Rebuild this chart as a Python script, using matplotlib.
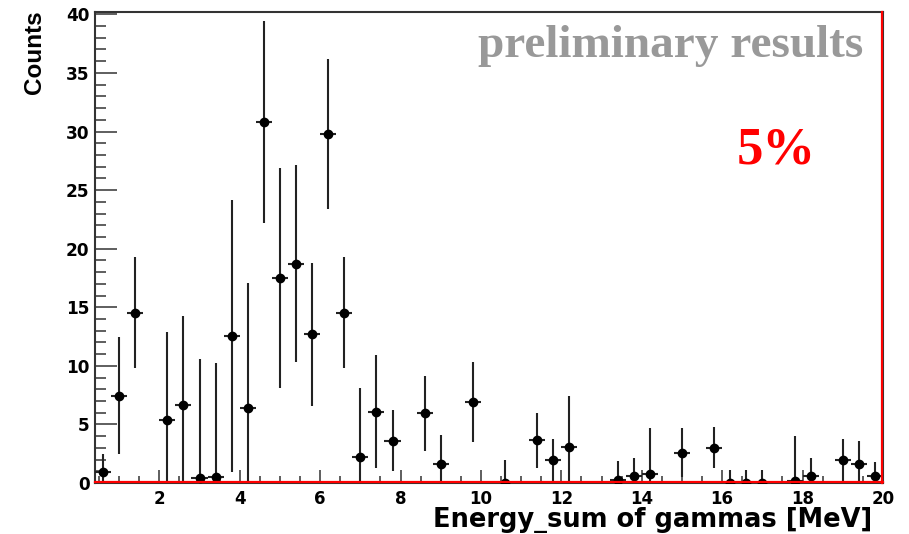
import matplotlib
matplotlib.use("Agg")
import matplotlib.pyplot as plt
import matplotlib.transforms as mtransforms
from matplotlib.ticker import MultipleLocator

plt.rcParams['font.family'] = ['DejaVu Sans']
plt.rcParams['font.weight'] = 'bold'

# Bin centres (MeV) of the non-empty bins, bin half-width 0.2 MeV
energy = [0.6, 1.0, 1.4, 2.2, 2.6, 3.0, 3.4, 3.8, 4.2, 4.6, 5.0, 5.4, 5.8,
          6.2, 6.6, 7.0, 7.4, 7.8, 8.6, 9.0, 9.8, 10.6, 11.4, 11.8, 12.2,
          13.4, 13.8, 14.2, 15.0, 15.8, 16.2, 16.6, 17.0, 17.8, 18.2, 19.0,
          19.4, 19.8]
counts = [0.95, 7.45, 14.55, 5.4, 6.7, 0.45, 0.55, 12.55, 6.4, 30.8, 17.5,
          18.7, 12.7, 29.8, 14.55, 2.25, 6.1, 3.6, 5.95, 1.6, 6.9, 0.0,
          3.65, 1.95, 3.1, 0.25, 0.6, 0.8, 2.6, 3.0, 0.0, 0.0, 0.0, 0.15,
          0.6, 1.95, 1.65, 0.6]
errors = [1.5, 5.0, 4.7, 7.5, 7.55, 10.1, 9.7, 11.6, 10.7, 8.6, 9.4, 8.4,
          6.1, 6.4, 4.7, 5.9, 4.85, 2.6, 3.2, 2.5, 3.4, 1.95, 2.35, 1.8,
          4.35, 1.6, 1.55, 3.9, 2.1, 1.75, 1.15, 1.15, 1.15, 3.85, 1.55,
          1.8, 1.9, 1.2]
half_width = 0.2

W, H = 909, 534
fig = plt.figure(figsize=(W / 100, H / 100), dpi=100)
ax = fig.add_axes([95 / W, 1 - 483 / H, (883 - 95) / W, (483 - 12) / H])

ax.errorbar(energy, counts, yerr=errors, xerr=half_width, fmt='o',
            color='black', ecolor='#222222', elinewidth=1.5, capsize=0,
            markersize=6, zorder=3)

ax.set_xlim(0.4, 20)
ax.set_ylim(0, 40.2)

ax.xaxis.set_major_locator(MultipleLocator(2))
ax.xaxis.set_minor_locator(MultipleLocator(0.5))
ax.yaxis.set_major_locator(MultipleLocator(5))
ax.yaxis.set_minor_locator(MultipleLocator(1))

ax.tick_params(axis='x', which='major', direction='in', length=9.5, width=1.1,
               color='#333333', pad=5, labelsize=12)
ax.tick_params(axis='x', which='minor', direction='in', length=5, width=1.1,
               color='#333333')
ax.tick_params(axis='y', which='major', direction='in', length=16, width=1.1,
               color='#333333', pad=4, labelsize=12.2)
ax.tick_params(axis='y', which='minor', direction='in', length=8, width=1.1,
               color='#333333')

for side in ['left', 'top', 'right', 'bottom']:
    ax.spines[side].set_linewidth(1.5)
    ax.spines[side].set_color('#333333')

# Red frame lines just inside the bottom and right edges
up = mtransforms.offset_copy(ax.transAxes, fig=fig, x=0, y=1.5, units='dots')
left = mtransforms.offset_copy(ax.transAxes, fig=fig, x=-1.5, y=0, units='dots')
ax.plot([0, 1], [0, 0], transform=up, color='red', lw=1.6, clip_on=False, zorder=4)
ax.plot([1, 1], [0, 1], transform=left, color='red', lw=1.6, clip_on=False, zorder=4)

fig.text(872 / W, 1 - 527 / H, 'Energy_sum of gammas [MeV]', ha='right',
         va='baseline', family='DejaVu Sans', weight='bold', size=18.5)
fig.text(35 / W, 1 - 10 / H, 'Counts', rotation=90, ha='center', va='top',
         family='Liberation Sans', weight='bold', size=17.5)

fig.text(863 / W, 1 - 57 / H, 'preliminary results', ha='right',
         va='baseline', family='Liberation Serif', weight='bold', size=34,
         color='#999999')
fig.text(776 / W, 1 - 163 / H, '5%', ha='center', va='baseline',
         family='Liberation Serif', weight='bold', size=38, color='red')

fig.savefig('out.png', dpi=100)
